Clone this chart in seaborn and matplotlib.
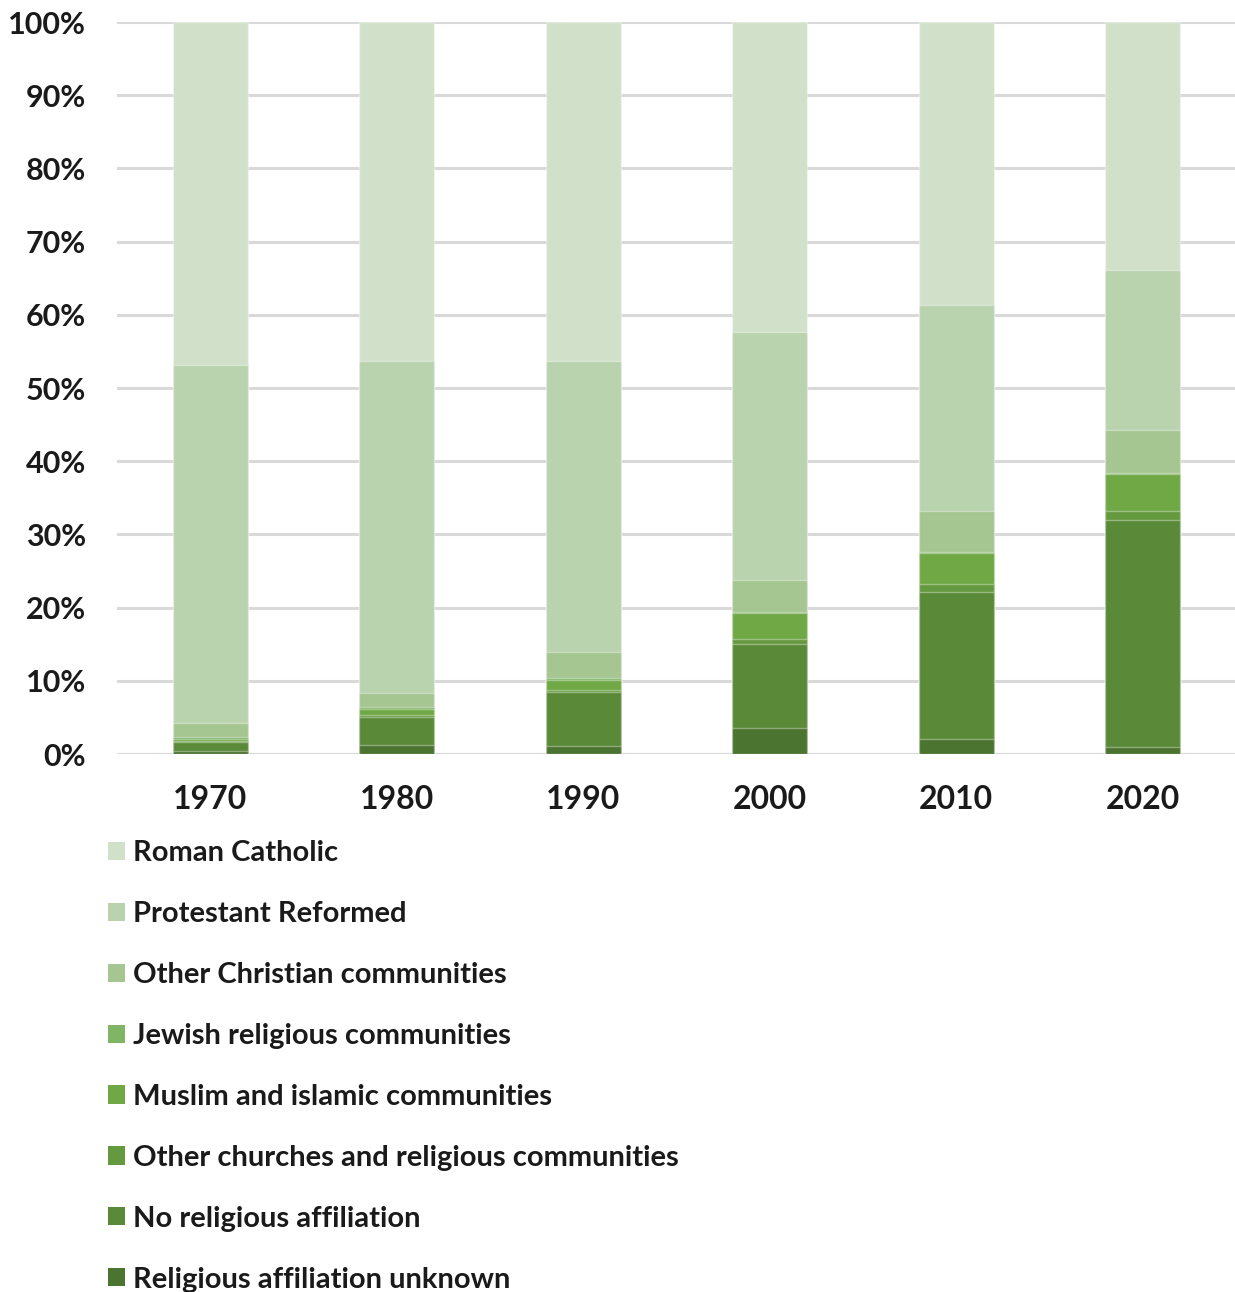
import matplotlib
matplotlib.use("Agg")
import matplotlib.pyplot as plt
import seaborn as sns
import pandas as pd
import numpy as np
from matplotlib.patches import Patch
import matplotlib.transforms as mtransforms

years = ["1970", "1980", "1990", "2000", "2010", "2020"]

# values in percent
unknown        = [0.4, 1.2, 1.1, 3.6, 2.0, 0.9]
no_religion    = [1.2, 3.8, 7.4, 11.4, 20.1, 31.1]
other_churches = [0.2, 0.3, 0.3, 0.7, 1.1, 1.2]
muslim         = [0.2, 0.8, 1.3, 3.5, 4.2, 5.0]
jewish         = [0.3, 0.3, 0.3, 0.2, 0.2, 0.2]
other_christian = [2.0, 2.0, 3.6, 4.4, 5.6, 5.8]
protestant     = [48.8, 45.3, 39.7, 33.9, 28.1, 21.9]
catholic = [100 - sum(v) for v in zip(unknown, no_religion, other_churches, muslim,
                                      jewish, other_christian, protestant)]

labels = ["Roman Catholic", "Protestant Reformed", "Other Christian communities",
          "Jewish religious communities", "Muslim and islamic communities",
          "Other churches and religious communities", "No religious affiliation",
          "Religious affiliation unknown"]
series = [catholic, protestant, other_christian, jewish, muslim,
          other_churches, no_religion, unknown]
colors = ["#D0E0C9", "#B9D3AF", "#A5C591", "#80B566", "#70A845",
          "#65993F", "#5A8A38", "#4B7430"]

sns.set_theme(style="white")
plt.rcParams['font.family'] = ['Lato', 'DejaVu Sans']
plt.rcParams['font.weight'] = 'bold'

fig = plt.figure(figsize=(12.35, 12.92), dpi=100)
ax = fig.add_axes([117/1235, 1 - 754/1292, 1119/1235, 732/1292])

bottom_up = list(reversed(series))
cum = np.cumsum(np.array(bottom_up), axis=0)
cols_bottom_up = list(reversed(colors))

for i in range(len(bottom_up) - 1, -1, -1):
    df = pd.DataFrame({"year": years, "val": cum[i]})
    sns.barplot(data=df, x="year", y="val", color=cols_bottom_up[i], width=0.4,
                edgecolor=(1, 1, 1, 0.35), linewidth=1.0, ax=ax, saturation=1)

ax.set_xlim(-0.5, 5.5)
ax.set_ylim(0, 100)
ax.set_yticks(np.arange(0, 101, 10))
ax.set_yticklabels([f"{v}%" for v in range(0, 101, 10)])
ax.yaxis.grid(True, color="#D9D9D9", linewidth=2.2)
ax.set_axisbelow(True)
for s in ax.spines.values():
    s.set_visible(False)
ax.set_xlabel("")
ax.set_ylabel("")
ax.tick_params(axis="y", labelsize=22, pad=0, colors="#1a1a1a", length=0)
ax.tick_params(axis="x", labelsize=23, pad=22, colors="#1a1a1a", length=0)
trans = mtransforms.blended_transform_factory(fig.transFigure, ax.transData)
for t in ax.get_yticklabels():
    t.set_transform(trans)
    t.set_x(86/1235)
    t.set_horizontalalignment("right")
for t in ax.get_xticklabels() + ax.get_yticklabels():
    t.set_fontweight("bold")

handles = [Patch(facecolor=c, edgecolor="none") for c in colors]
leg = fig.legend(handles, labels, loc="upper left",
                 bbox_to_anchor=(96.5/1235, 1 - 828.5/1292), frameon=False,
                 fontsize=21, handlelength=0.58, handleheight=0.58,
                 handletextpad=0.27, labelspacing=1.197, borderaxespad=0)
for t in leg.get_texts():
    t.set_fontweight("bold")
    t.set_color("#1a1a1a")

fig.savefig("out.png", dpi=100)
